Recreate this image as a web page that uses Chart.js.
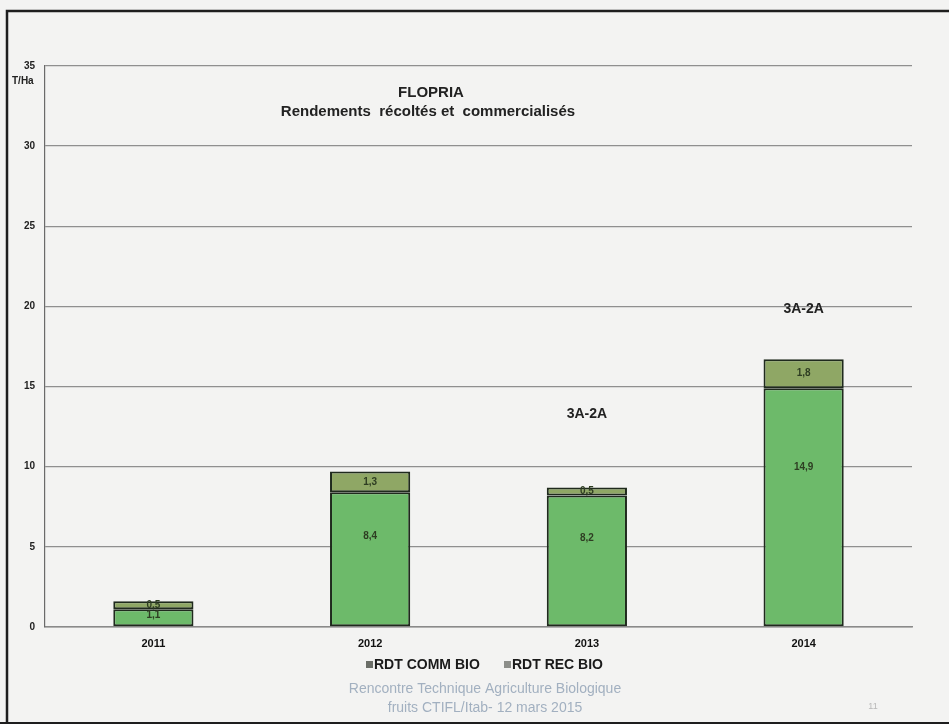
<!DOCTYPE html>
<html lang="fr">
<head>
  <meta charset="UTF-8" />
  <title>FLOPRIA - Rendements</title>
  <style>
    html, body { margin: 0; padding: 0; background: #f3f3f2; }
    #wrap { position: relative; width: 949px; height: 724px; }
  </style>
</head>
<body>
  <div id="wrap">
    <canvas id="myChart" width="949" height="724"></canvas>
  </div>

  <script src="https://cdn.jsdelivr.net/npm/chart.js"></script>
  <script>
    // data
    const years = ['2011', '2012', '2013', '2014'];
    const commBio = [1.1, 8.4, 8.2, 14.9];
    const recBio = [0.5, 1.3, 0.5, 1.8];
    const seriesNames = ['RDT COMM BIO', 'RDT REC BIO'];
    const yMax = 35;
    const yStep = 5;

    const fmt = v => v.toFixed(1).replace('.', ',');

    // frame, titles, notes, value labels, legend, footer
    const decor = {
      id: 'decor',
      beforeDraw(chart) {
        const ctx = chart.ctx;
        ctx.save();
        ctx.fillStyle = '#f3f3f2';
        ctx.fillRect(0, 0, chart.width, chart.height);
        ctx.restore();
      },
      afterDraw(chart) {
        const ctx = chart.ctx;
        const x = chart.scales.x, y = chart.scales.y;
        ctx.save();

        // frame
        ctx.strokeStyle = '#1e1e1e';
        ctx.lineWidth = 2.5;
        ctx.beginPath();
        ctx.moveTo(949, 11); ctx.lineTo(7, 11); ctx.lineTo(7, 724);
        ctx.stroke();
        ctx.lineWidth = 2;
        ctx.beginPath();
        ctx.moveTo(0, 723); ctx.lineTo(949, 723);
        ctx.stroke();

        // unit
        ctx.fillStyle = '#222';
        ctx.font = 'bold 10px "Liberation Sans", Arial, sans-serif';
        ctx.textAlign = 'left';
        ctx.textBaseline = 'middle';
        ctx.fillText('T/Ha', 12, 81);

        // title
        ctx.textAlign = 'center';
        ctx.font = 'bold 15px "Liberation Sans", Arial, sans-serif';
        ctx.fillText('FLOPRIA', 431, 93);
        ctx.fillText('Rendements  récoltés et  commercialisés', 428, 112);

        // notes above bars
        ctx.font = 'bold 14px "Liberation Sans", Arial, sans-serif';
        ctx.fillText('3A-2A', x.getPixelForValue(2), y.getPixelForValue(13.25));
        ctx.fillText('3A-2A', x.getPixelForValue(3), y.getPixelForValue(19.8));

        // value labels
        ctx.font = 'bold 10px "Liberation Sans", Arial, sans-serif';
        ctx.fillStyle = '#2e3d22';
        chart.data.datasets.forEach((ds, di) => {
          chart.getDatasetMeta(di).data.forEach((bar, i) => {
            const top = bar.y, base = bar.base;
            const ly = di === 0 ? top + (base - top) * 0.33 : (top + base) / 2;
            ctx.fillText(fmt(ds.data[i]), bar.x, ly);
          });
        });

        // legend
        const legY = 665;
        const items = [
          { text: seriesNames[0], x: 366, color: '#6b6e68' },
          { text: seriesNames[1], x: 504, color: '#8c8e8a' }
        ];
        ctx.font = 'bold 14px "Liberation Sans", Arial, sans-serif';
        ctx.textAlign = 'left';
        items.forEach(it => {
          ctx.fillStyle = it.color;
          ctx.fillRect(it.x, legY - 4, 7, 7);
          ctx.fillStyle = '#1a1a1a';
          ctx.fillText(it.text, it.x + 8, legY);
        });

        // footer
        ctx.textAlign = 'center';
        ctx.fillStyle = '#a2b0c0';
        ctx.font = '14px "Liberation Sans", Arial, sans-serif';
        ctx.fillText('Rencontre Technique Agriculture Biologique', 485, 689);
        ctx.fillText('fruits CTIFL/Itab- 12 mars 2015', 485, 708);
        ctx.fillStyle = '#b8b8b8';
        ctx.font = '9px "Liberation Sans", Arial, sans-serif';
        ctx.fillText('11', 873, 707);

        ctx.restore();
      }
    };

    const ctx = document.getElementById('myChart').getContext('2d');
    new Chart(ctx, {
      type: 'bar',
      data: {
        labels: years,
        datasets: [
          {
            label: seriesNames[0],
            data: commBio,
            backgroundColor: '#6dba6a',
            borderColor: '#1f2a1d',
            borderWidth: 2,
            borderSkipped: false,
            barPercentage: 0.37,
            categoryPercentage: 1
          },
          {
            label: seriesNames[1],
            data: recBio,
            backgroundColor: '#8fa765',
            borderColor: '#1f2a1d',
            borderWidth: 2,
            borderSkipped: false,
            barPercentage: 0.37,
            categoryPercentage: 1
          }
        ]
      },
      options: {
        responsive: false,
        animation: false,
        layout: { padding: { top: 66, left: 0, right: 37, bottom: 0 } },
        plugins: {
          legend: { display: false },
          title: { display: false },
          tooltip: { enabled: false }
        },
        scales: {
          x: {
            stacked: true,
            afterFit: s => { s.height = 97; },
            grid: { display: false, drawTicks: false },
            border: { color: '#8a8a8a', width: 1.5 },
            ticks: {
              padding: 10,
              color: '#111',
              font: { family: '"Liberation Sans", Arial, sans-serif', size: 11, weight: 'bold' }
            }
          },
          y: {
            stacked: true,
            min: 0,
            max: yMax,
            afterFit: s => { s.width = 45; },
            grid: { color: '#8f8f8f', lineWidth: 1.3, drawTicks: false },
            border: { color: '#6a6a6a', width: 1.2 },
            ticks: {
              stepSize: yStep,
              padding: 10,
              color: '#222',
              font: { family: '"Liberation Sans", Arial, sans-serif', size: 10, weight: 'bold' }
            }
          }
        }
      },
      plugins: [decor]
    });
  </script>
</body>
</html>
